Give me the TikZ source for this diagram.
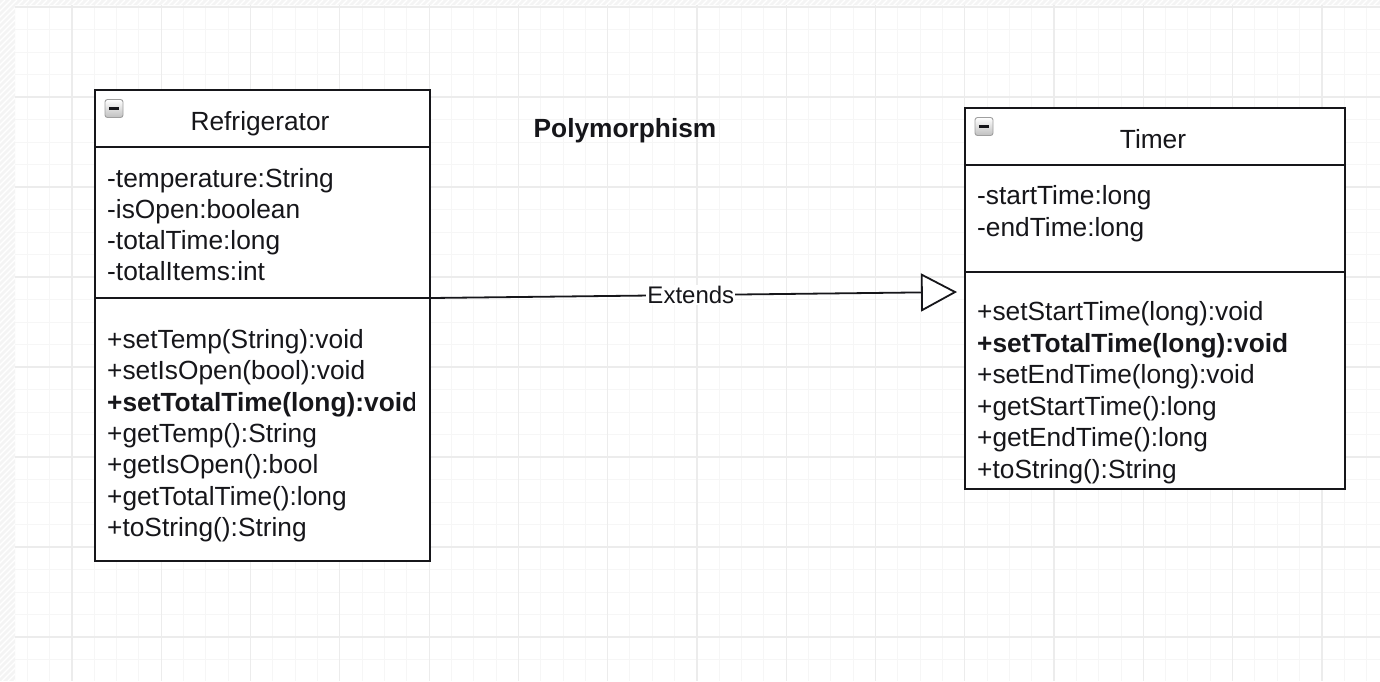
\documentclass[tikz,border=0pt]{standalone}
\usepackage{fontspec}
\setmainfont{Liberation Sans}
\usetikzlibrary{arrows.meta,calc}
\definecolor{gridminor}{RGB}{246,246,246}
\definecolor{gridmajor}{RGB}{236,236,236}
\definecolor{marginbg}{RGB}{244,244,244}
\definecolor{ink}{RGB}{22,22,26}
\tikzset{
  member/.style={anchor=base west, inner sep=0pt, text=ink, font=\fontsize{26.3}{31}\selectfont},
  classtitle/.style={anchor=base, inner sep=0pt, text=ink, font=\fontsize{26.3}{31}\selectfont},
  heading/.style={anchor=base, inner sep=0pt, text=ink, font=\fontsize{26.3}{31}\selectfont\bfseries},
  classbox/.style={draw=ink, line width=2pt, fill=white, anchor=north west, inner sep=0pt},
  sepline/.style={draw=ink, line width=2pt},
  iconbox/.style={draw=gray!75, line width=0.9pt, rounded corners=2.5pt, minimum size=18pt,
    inner sep=0pt, top color=white, bottom color=gray!50,
    path picture={\draw[line width=2.2pt, ink]
      ([xshift=4pt]path picture bounding box.west) -- ([xshift=-4pt]path picture bounding box.east);}},
  extends/.style={draw=ink, line width=1.8pt,
    -{Triangle[open, fill=white, length=36pt, width=38pt, line width=1.8pt]}},
  edgelabel/.style={fill=white, inner sep=1pt, text=ink, font=\fontsize{24}{28}\selectfont}
}
\begin{document}
\begin{tikzpicture}[x=1pt, y=-1pt]
  \useasboundingbox (0,0) rectangle (1380,681);
  \fill[white] (0,0) rectangle (1380,681);

  % hatched margin along the left and top edges
  \begin{scope}
    \clip (0,0) rectangle (15,681) (0,0) rectangle (1380,5);
    \fill[marginbg] (0,0) rectangle (1380,681);
    \foreach \k in {0,...,360}
      \draw[white, line width=1.2pt] ({-700+6*\k},681) -- ({-19+6*\k},0);
  \end{scope}

  % background grid
  \begin{scope}
    \clip (15,5) rectangle (1380,681);
    \foreach \k in {0,...,62}
      \draw[gridminor, line width=1pt] ({-17.32+22.32*\k},0) -- ({-17.32+22.32*\k},681);
    \foreach \k in {0,...,31}
      \draw[gridminor, line width=1pt] (0,{7+22.5*\k}) -- (1380,{7+22.5*\k});
    \foreach \k in {0,...,16}
      \draw[gridmajor, line width=1.2pt] ({-17.28+89.28*\k},0) -- ({-17.28+89.28*\k},681);
    \foreach \k in {0,...,8}
      \draw[gridmajor, line width=1.2pt] (0,{7+90*\k}) -- (1380,{7+90*\k});
  \end{scope}

  % class Refrigerator
  \node[classbox, minimum width=335pt, minimum height=471pt] (fridge) at (94,89) {};
  \draw[sepline] (fridge.west |- 0,147) -- (fridge.east |- 0,147);
  \draw[sepline] (fridge.west |- 0,298) -- (fridge.east |- 0,298);
  \node[iconbox] (ficon) at (114,108.5) {};
  \node[classtitle] (ftitle) at (260,130) {Refrigerator};
  \foreach \t [count=\i] in {-temperature:String, -isOpen:boolean, -totalTime:long, -totalItems:int}
    \node[member] (fa\i) at (107,{187+31.3*(\i-1)}) {\t};
  \begin{scope}
    \clip (94,298) rectangle (414,560);
    \foreach \t [count=\i] in {+setTemp(String):void, +setIsOpen(bool):void,
        {\bfseries +setTotalTime(long):void}, +getTemp():String, +getIsOpen():bool,
        +getTotalTime():long, +toString():String}
      \node[member] (fm\i) at (107,{348.5+31.3*(\i-1)}) {\t};
  \end{scope}

  % class Timer
  \node[classbox, minimum width=380pt, minimum height=381pt] (timer) at (964,107) {};
  \draw[sepline] (timer.west |- 0,165) -- (timer.east |- 0,165);
  \draw[sepline] (timer.west |- 0,272) -- (timer.east |- 0,272);
  \node[iconbox] (ticon) at (984,126.5) {};
  \node[classtitle] (ttitle) at (1153,148) {Timer};
  \foreach \t [count=\i] in {-startTime:long, -endTime:long}
    \node[member] (ta\i) at (977,{204.5+31.5*(\i-1)}) {\t};
  \foreach \t [count=\i] in {+setStartTime(long):void, {\bfseries +setTotalTime(long):void},
      +setEndTime(long):void, +getStartTime():long, +getEndTime():long, +toString():String}
    \node[member] (tm\i) at (977,{320.5+31.6*(\i-1)}) {\t};

  % heading
  \node[heading] (poly) at (625,137.5) {Polymorphism};

  % generalisation arrow
  \coordinate (src) at (fridge.east |- 0,298);
  \coordinate (tip) at ($(timer.west |- 0,292)+(-7,0)$);
  \draw[extends] (src) -- node[edgelabel, pos=0.494] (ext) {Extends} (tip);
\end{tikzpicture}
\end{document}
